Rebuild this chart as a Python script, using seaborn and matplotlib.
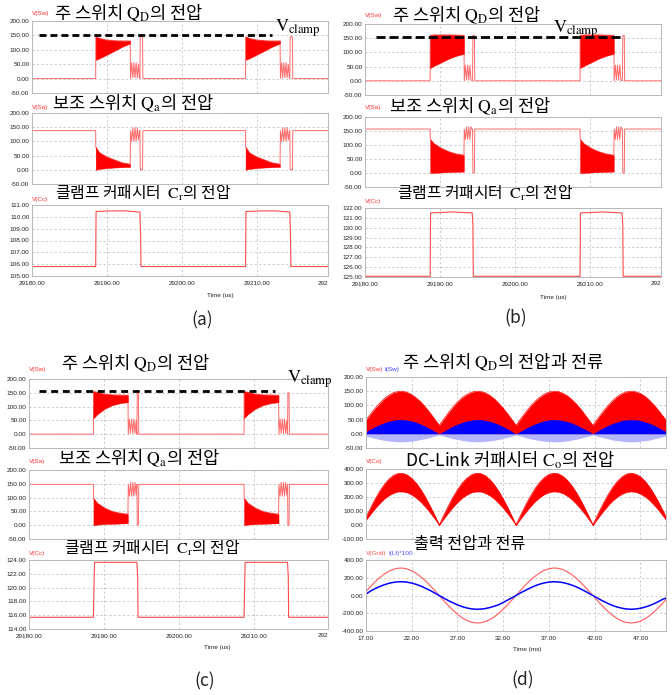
import matplotlib
matplotlib.use("Agg")
import matplotlib.pyplot as plt
import seaborn as sns
from matplotlib import font_manager

sns.set_style("white")
plt.rcParams['font.family'] = ['Noto Sans CJK KR', 'DejaVu Sans']
plt.rcParams['mathtext.fontset'] = 'stix'
plt.rcParams['axes.unicode_minus'] = False
plt.rcParams['lines.scale_dashes'] = False
_names = {f.name for f in font_manager.fontManager.ttflist}
TFONT = 'Liberation Sans Narrow' if 'Liberation Sans Narrow' in _names else 'Liberation Sans'

# ---------------- data: panels (a)-(c) (switching waveforms, us) ----------------
US_XTICKS = [29180, 29190, 29200, 29210]
SW_YTICKS = [-50, 0, 50, 100, 150, 200]

# panel (a)
A_PULSES = [29188.5, 29208.5]
A_BAND_DT = [0, 0.5, 1.5, 2.5, 3.5, 4.6]
A_SW_LO = [65, 70, 83, 96, 110, 122]
A_SW_HI = [145, 140, 134, 132, 131, 131]
A_POST_DT = [4.65, 4.8, 4.95, 5.1, 5.25, 5.4, 5.55, 5.7, 5.85, 5.9, 5.95, 6.25, 6.3]
A_SW_POST = [0, 55, 3, 55, 3, 55, 3, 50, 0, 0, 145, 145, 0]
A_SA_BASE = 138
A_SA_LO = [0, 3, 6, 8, 9, 10]
A_SA_HI = [80, 60, 45, 35, 25, 20]
A_SA_POST = [138, 100, 148, 100, 148, 100, 148, 105, 138, 138, 0, 0, 138]
A_CC_DT = [0, 0.05, 2.0, 4.0, 5.9, 6.0, 6.05]
A_CC_V = [105.8, 110.45, 110.5, 110.5, 110.4, 108.3, 105.8]
A_CC_YTICKS = [105, 106, 107, 108, 109, 110, 111]
A_CLAMP = [29181.0, 29212.0, 150]

# panel (b)
B_PULSES = [29188.7, 29208.7]
B_BAND_DT = [0, 0.5, 1.5, 2.5, 3.5, 4.5]
B_SW_LO = [45, 52, 65, 78, 88, 95]
B_SW_HI = [160, 162, 162, 162, 161, 160]
B_POST_DT = [4.55, 4.7, 4.85, 5.0, 5.15, 5.3, 5.45, 5.6, 5.65, 5.7, 5.9, 5.95]
B_SW_POST = [0, 55, 3, 55, 3, 55, 3, 0, 0, 160, 160, 0]
B_SA_BASE = 157
B_SA_LO = [0, 0, 2, 3, 4, 5]
B_SA_HI = [120, 105, 88, 76, 68, 64]
B_SA_POST = [157, 120, 165, 120, 165, 120, 165, 157, 157, 0, 0, 157]
B_CC_DT = [0, 0.05, 3.0, 5.6, 5.7, 5.75]
B_CC_V = [125.07, 131.5, 131.6, 131.5, 130.3, 125.07]
B_CC_YTICKS = [125, 126, 127, 128, 129, 130, 131, 132]
B_CLAMP = [29181.5, 29214.3, 155]

# panel (c)
C_PULSES = [29188.6, 29208.7]
C_BAND_DT = [0, 0.5, 1.5, 2.5, 3.5, 4.6]
C_SW_LO = [58, 72, 92, 105, 112, 116]
C_SW_HI = [155, 152, 145, 143, 142, 141]
C_POST_DT = [4.65, 4.8, 4.95, 5.1, 5.25, 5.4, 5.55, 5.7, 5.8, 5.85, 6.0, 6.05]
C_SW_POST = [0, 55, 3, 55, 3, 55, 3, 50, 0, 150, 150, 0]
C_SA_BASE = 148
C_SA_LO = [0, 2, 4, 5, 6, 7]
C_SA_HI = [98, 80, 62, 50, 44, 40]
C_SA_POST = [148, 105, 155, 105, 155, 105, 155, 110, 148, 0, 0, 148]
C_CC_DT = [0, 0.05, 0.15, 5.8, 5.9, 5.95]
C_CC_V = [115.7, 119.0, 123.66, 123.66, 121.5, 115.7]
C_CC_YTICKS = [114, 116, 118, 120, 122, 124]
C_CLAMP = [29181.3, 29212.8, 155]

# ---------------- data: panel (d) (line-frequency waveforms, ms) ----------------
D_T = [17.0, 17.5, 18.0, 18.5, 19.0, 19.5, 20.0, 20.5, 21.0, 21.5, 22.0, 22.5, 23.0, 23.5, 24.0, 24.5, 25.0,
       25.5, 26.0, 26.5, 27.0, 27.5, 28.0, 28.5, 29.0, 29.5, 30.0, 30.5, 31.0, 31.5, 32.0, 32.5, 33.0, 33.4,
       34.0, 34.5, 35.0, 35.5, 36.0, 36.5, 37.0, 37.5, 38.0, 38.5, 39.0, 39.5, 40.0, 40.5, 41.0, 41.5, 41.8,
       42.0, 42.5, 43.0, 43.5, 44.0, 44.5, 45.0, 45.5, 46.0, 46.5, 47.0, 47.5, 48.0, 48.5, 49.0, 49.5, 49.8]
D_VSW_HI = [48, 70, 90, 108, 124, 136, 145, 149, 150, 146, 138, 126, 112, 94, 74, 52, 30,
            52, 74, 94, 112, 127, 138, 146, 150, 149, 145, 136, 124, 108, 90, 70, 48, 30,
            57, 78, 98, 115, 129, 140, 147, 150, 149, 143, 134, 121, 105, 86, 65, 43, 30,
            39, 61, 82, 101, 118, 132, 142, 148, 150, 148, 142, 132, 118, 101, 82, 61, 48]
D_ISW_HI = [7, 17, 25, 33, 39, 44, 48, 50, 50, 48, 45, 40, 34, 27, 18, 9, 0,
            9, 18, 27, 34, 40, 45, 48, 50, 50, 48, 44, 39, 33, 25, 17, 7, 0,
            11, 20, 28, 35, 41, 46, 49, 50, 49, 47, 43, 38, 31, 23, 15, 6, 0,
            4, 13, 22, 30, 37, 42, 47, 49, 50, 49, 47, 42, 37, 30, 22, 13, 7]
D_ISW_LO = [-8, -12, -16, -20, -23, -25, -27, -28, -28, -27, -26, -23, -20, -17, -13, -8, -4,
            -8, -13, -17, -20, -23, -26, -27, -28, -28, -27, -25, -23, -20, -16, -12, -8, -4,
            -9, -14, -18, -21, -24, -26, -27, -28, -28, -27, -25, -22, -19, -15, -11, -7, -4,
            -6, -10, -14, -18, -22, -24, -26, -28, -28, -28, -26, -24, -22, -18, -14, -10, -8]
D_VCO_HI = [55, 122, 185, 241, 289, 327, 354, 368, 369, 357, 333, 297, 252, 197, 135, 69, 0,
            69, 135, 197, 252, 298, 333, 357, 369, 368, 354, 327, 289, 241, 185, 122, 55, 0,
            83, 148, 208, 262, 306, 339, 361, 370, 366, 349, 320, 280, 231, 173, 109, 41, 0,
            28, 96, 161, 220, 271, 313, 344, 364, 370, 363, 344, 313, 271, 219, 161, 96, 55]
D_VCO_LO = [36, 79, 120, 156, 188, 212, 229, 239, 239, 232, 216, 193, 163, 128, 88, 45, 0,
            45, 88, 128, 163, 193, 216, 232, 239, 239, 229, 212, 188, 156, 120, 79, 36, 0,
            54, 96, 135, 170, 198, 220, 234, 240, 237, 227, 208, 182, 150, 112, 71, 27, 0,
            18, 62, 104, 143, 176, 203, 223, 236, 240, 236, 223, 203, 176, 142, 104, 62, 36]
D_VGRID = [46, 102, 155, 202, 242, 274, 296, 308, 309, 299, 279, 249, 211, 165, 113, 58, 0,
           -58, -113, -165, -211, -250, -279, -299, -309, -308, -296, -274, -242, -202, -155, -103, -46, 0,
           69, 124, 175, 219, 256, 284, 302, 310, 307, 293, 268, 235, 193, 145, 91, 35, 0,
           -23, -80, -135, -184, -227, -263, -288, -305, -310, -304, -289, -263, -227, -184, -135, -80, -46]
D_ILF = [15, 51, 78, 101, 121, 137, 148, 154, 155, 150, 140, 125, 106, 82, 57, 29, 0,
         -29, -57, -82, -106, -125, -140, -150, -155, -154, -148, -137, -121, -105, -78, -51, -23, 0,
         35, 62, 87, 110, 128, 142, 151, 155, 153, 146, 134, 117, 97, 72, 46, 17, 0,
         -12, -40, -67, -92, -114, -131, -144, -152, -155, -152, -144, -131, -114, -92, -67, -40, -30]
MS_XTICKS = [17, 22, 27, 32, 37, 42, 47]
D_YTICKS_SW = [-50, 0, 50, 100, 150, 200]
D_YTICKS_CO = [-100, 0, 100, 200, 300, 400]
D_YTICKS_GRID = [-400, -200, 0, 200, 400]

# ---------------- texts ----------------
T_SW = '주 스위치 $\\mathrm{Q}_{\\mathrm{D}}$의 전압'
T_SA = '보조 스위치 $\\mathrm{Q}_{\\mathrm{a}}$의 전압'
T_CC = '클램프 커패시터  $\\mathrm{C}_{\\mathrm{r}}$의 전압'
T_D1 = '주 스위치 $\\mathrm{Q}_{\\mathrm{D}}$의 전압과 전류'
T_D2 = 'DC-Link 커패시터 $\\mathrm{C}_{\\mathrm{o}}$의 전압'
T_D3 = '출력 전압과 전류'
T_CLAMP = '$\\mathrm{V}_{\\mathrm{clamp}}$'

# ---------------- figure ----------------
W, H = 672, 695
fig = plt.figure(figsize=(W / 100, H / 100), dpi=100)
fig.patch.set_facecolor('white')

TICK_FS = 4.6
RED = '#ff0000'
PINK = '#ff6a6a'
BLUE = '#0000ff'


def add_ax(box):
    x0, x1, y0, y1 = box
    return fig.add_axes([x0 / W, 1 - y1 / H, (x1 - x0) / W, (y1 - y0) / H])


def ftext(x, y, s, **kw):
    return fig.text(x / W, 1 - y / H, s, **kw)


def style(ax, xlim, ylim, yticks, xticks, xlabels=False, fmt="{:.2f}"):
    ax.set_xlim(*xlim)
    ax.set_ylim(*ylim)
    ax.set_yticks(yticks)
    ax.set_yticklabels([fmt.format(v) for v in yticks], fontsize=TICK_FS, family=TFONT, color='#222222')
    ax.set_xticks(xticks)
    if xlabels:
        ax.set_xticklabels([fmt.format(v) for v in xticks], fontsize=TICK_FS, family=TFONT, color='#222222')
    else:
        ax.set_xticklabels([])
    ax.tick_params(length=0, pad=1.8)
    ax.tick_params(axis='x', pad=3.5)
    ax.grid(True, color='#c4c4c4', linestyle=(0, (1.6, 1.6)), linewidth=0.6)
    ax.set_axisbelow(True)
    for s in ax.spines.values():
        s.set_color('#b8b8b8')
        s.set_linewidth(0.7)
    ax.set_xlabel('')
    ax.set_ylabel('')


def pulse_line(pulses, base, band_dt, band_hi, post_dt, post_v, xlim):
    xs, ys = [xlim[0]], [base]
    for t0 in pulses:
        xs.append(t0)
        ys.append(base)
        for i, (d, h) in enumerate(zip(band_dt, band_hi)):
            xs.append(t0 + d + (0.01 if i == 0 else 0))
            ys.append(h)
        for d, v in zip(post_dt, post_v):
            xs.append(t0 + d)
            ys.append(v)
    xs.append(xlim[1])
    ys.append(base)
    return xs, ys


def cc_line(pulses, dts, vals, xlim):
    xs, ys = [xlim[0]], [vals[0]]
    for t0 in pulses:
        for d, v in zip(dts, vals):
            xs.append(t0 + d)
            ys.append(v)
    xs.append(xlim[1])
    ys.append(vals[0])
    return xs, ys


def switching_panel(boxes, xlim, pulses, band_dt, sw_lo, sw_hi, post_dt, sw_post,
                    sa_base, sa_lo, sa_hi, sa_post, cc_dt, cc_v, cc_ticks, clamp, dash):
    ax1, ax2, ax3 = [add_ax(b) for b in boxes]
    # main switch voltage
    xs, ys = pulse_line(pulses, 0, band_dt, sw_hi, post_dt, sw_post, xlim)
    sns.lineplot(x=xs, y=ys, ax=ax1, estimator=None, sort=False, color=PINK, linewidth=0.7)
    for t0 in pulses:
        ax1.fill_between([t0 + d for d in band_dt], sw_lo, sw_hi, color=RED, linewidth=0.3, zorder=3)
    sns.lineplot(x=clamp[:2], y=[clamp[2], clamp[2]], ax=ax1, estimator=None, sort=False,
                 color='black', linewidth=2.0, dashes=False, zorder=4)
    ax1.lines[-1].set_dashes(dash)
    style(ax1, xlim, (-50, 200), SW_YTICKS, US_XTICKS)
    # auxiliary switch voltage
    xs, ys = pulse_line(pulses, sa_base, band_dt, sa_hi, post_dt, sa_post, xlim)
    sns.lineplot(x=xs, y=ys, ax=ax2, estimator=None, sort=False, color=PINK, linewidth=0.7)
    for t0 in pulses:
        ax2.fill_between([t0 + d for d in band_dt], sa_lo, sa_hi, color=RED, linewidth=0.3, zorder=3)
    style(ax2, xlim, (-50, 200), SW_YTICKS, US_XTICKS)
    # clamp capacitor voltage
    xs, ys = cc_line(pulses, cc_dt, cc_v, xlim)
    sns.lineplot(x=xs, y=ys, ax=ax3, estimator=None, sort=False, color='#ff4a4a', linewidth=0.8)
    style(ax3, xlim, (cc_ticks[0], cc_ticks[-1]), cc_ticks, US_XTICKS, xlabels=True)
    ax3.text(1.0, -0.065, '292', transform=ax3.transAxes, ha='right', va='top',
             fontsize=TICK_FS, family=TFONT, color='#222222')
    return ax1, ax2, ax3


XLIM_AB = (29180, 29219.5)
XLIM_C = (29180, 29219.9)

switching_panel([(32, 328, 21, 93), (32, 328, 113, 184), (32, 328, 205, 276)], XLIM_AB,
                A_PULSES, A_BAND_DT, A_SW_LO, A_SW_HI, A_POST_DT, A_SW_POST,
                A_SA_BASE, A_SA_LO, A_SA_HI, A_SA_POST, A_CC_DT, A_CC_V, A_CC_YTICKS,
                A_CLAMP, (5.0, 2.9))
switching_panel([(365, 661, 24, 95), (365, 661, 117, 187), (365, 661, 208, 277)], XLIM_AB,
                B_PULSES, B_BAND_DT, B_SW_LO, B_SW_HI, B_POST_DT, B_SW_POST,
                B_SA_BASE, B_SA_LO, B_SA_HI, B_SA_POST, B_CC_DT, B_CC_V, B_CC_YTICKS,
                B_CLAMP, (6.5, 2.9))
switching_panel([(29, 328, 379, 448), (29, 328, 470, 539), (29, 328, 560, 629)], XLIM_C,
                C_PULSES, C_BAND_DT, C_SW_LO, C_SW_HI, C_POST_DT, C_SW_POST,
                C_SA_BASE, C_SA_LO, C_SA_HI, C_SA_POST, C_CC_DT, C_CC_V, C_CC_YTICKS,
                C_CLAMP, (5.0, 3.4))

# ---------------- panel (d) ----------------
XLIM_D = (17, 49.8)
d1 = add_ax((366, 666, 377, 448))
d1.fill_between(D_T, 0, D_VSW_HI, color=RED, linewidth=0)
d1.fill_between(D_T, D_ISW_LO, 0, color='#b4b4ff', linewidth=0)
d1.fill_between(D_T, 0, D_ISW_HI, color=BLUE, linewidth=0)
sns.lineplot(x=D_T, y=D_VSW_HI, ax=d1, estimator=None, sort=False, color=RED, linewidth=0.5)
style(d1, XLIM_D, (-50, 200), D_YTICKS_SW, MS_XTICKS)

d2 = add_ax((366, 666, 469, 539))
d2.fill_between(D_T, D_VCO_LO, D_VCO_HI, color=RED, linewidth=0.4, edgecolor=RED)
sns.lineplot(x=D_T, y=D_VCO_HI, ax=d2, estimator=None, sort=False, color=RED, linewidth=0.5)
style(d2, XLIM_D, (-100, 400), D_YTICKS_CO, MS_XTICKS)

d3 = add_ax((366, 666, 560, 631))
sns.lineplot(x=D_T, y=D_VGRID, ax=d3, estimator=None, sort=False, color='#ff5a5a', linewidth=0.8)
sns.lineplot(x=D_T, y=D_ILF, ax=d3, estimator=None, sort=False, color=BLUE, linewidth=1.1)
style(d3, XLIM_D, (-400, 400), D_YTICKS_GRID, MS_XTICKS, xlabels=True)

# ---------------- titles / labels ----------------
TFS = 12.7
CFS = 11.4
for (x, y, s, fs) in [(129, 13, T_SW, TFS), (133, 103, T_SA, TFS), (143, 193, T_CC, CFS),
                      (467, 15, T_SW, TFS), (470, 106, T_SA, TFS), (485, 193, T_CC, CFS),
                      (136, 363, T_SW, TFS), (139, 458, T_SA, TFS), (152, 548, T_CC, CFS),
                      (503, 362, T_D1, TFS), (510, 460, T_D2, TFS), (470, 544, T_D3, 11.6)]:
    ftext(x, y, s, ha='center', va='center', fontsize=fs, color='black')

for (x, y) in [(275, 32), (553, 33), (287, 383)]:
    ftext(x, y, T_CLAMP, ha='left', va='baseline', fontsize=13, color='black')

SFS = 4.6
for (x, y, s, c) in [(32, 14, 'V(Sw)', '#ff3030'), (32, 108, 'V(Sa)', '#ff3030'), (32, 199, 'V(Cc)', '#ff3030'),
                     (365, 16, 'V(Sw)', '#ff3030'), (365, 108, 'V(Sa)', '#ff3030'), (365, 202, 'V(Cc)', '#ff3030'),
                     (29, 370, 'V(Sw)', '#ff3030'), (29, 462, 'V(Sa)', '#ff3030'), (29, 553, 'V(Cc)', '#ff3030'),
                     (366, 370, 'V(Sw)', '#ff3030'), (384, 370, 'I(Sw)', '#3030ff'),
                     (366, 554, 'V(Grid)', '#ff5050'), (388, 554, 'I(Lf)*100', '#5050ff'),
                     (366, 462, 'V(Co)', '#ff3030')]:
    ftext(x, y, s, ha='left', va='center', fontsize=SFS, family=TFONT, color=c)

for (x, y, s) in [(220, 296, 'Time (us)'), (553, 297, 'Time (us)'),
                  (217, 648, 'Time (us)'), (527, 650, 'Time (ms)')]:
    ftext(x, y, s, ha='center', va='center', fontsize=TICK_FS, family=TFONT, color='#222222')

for (x, y, s) in [(202, 320, '(a)'), (516, 318, '(b)'), (205, 681, '(c)'), (523, 680, '(d)')]:
    ftext(x, y, s, ha='center', va='center', fontsize=12.5, color='#222222')

fig.savefig('out.png', dpi=100, facecolor='white')
